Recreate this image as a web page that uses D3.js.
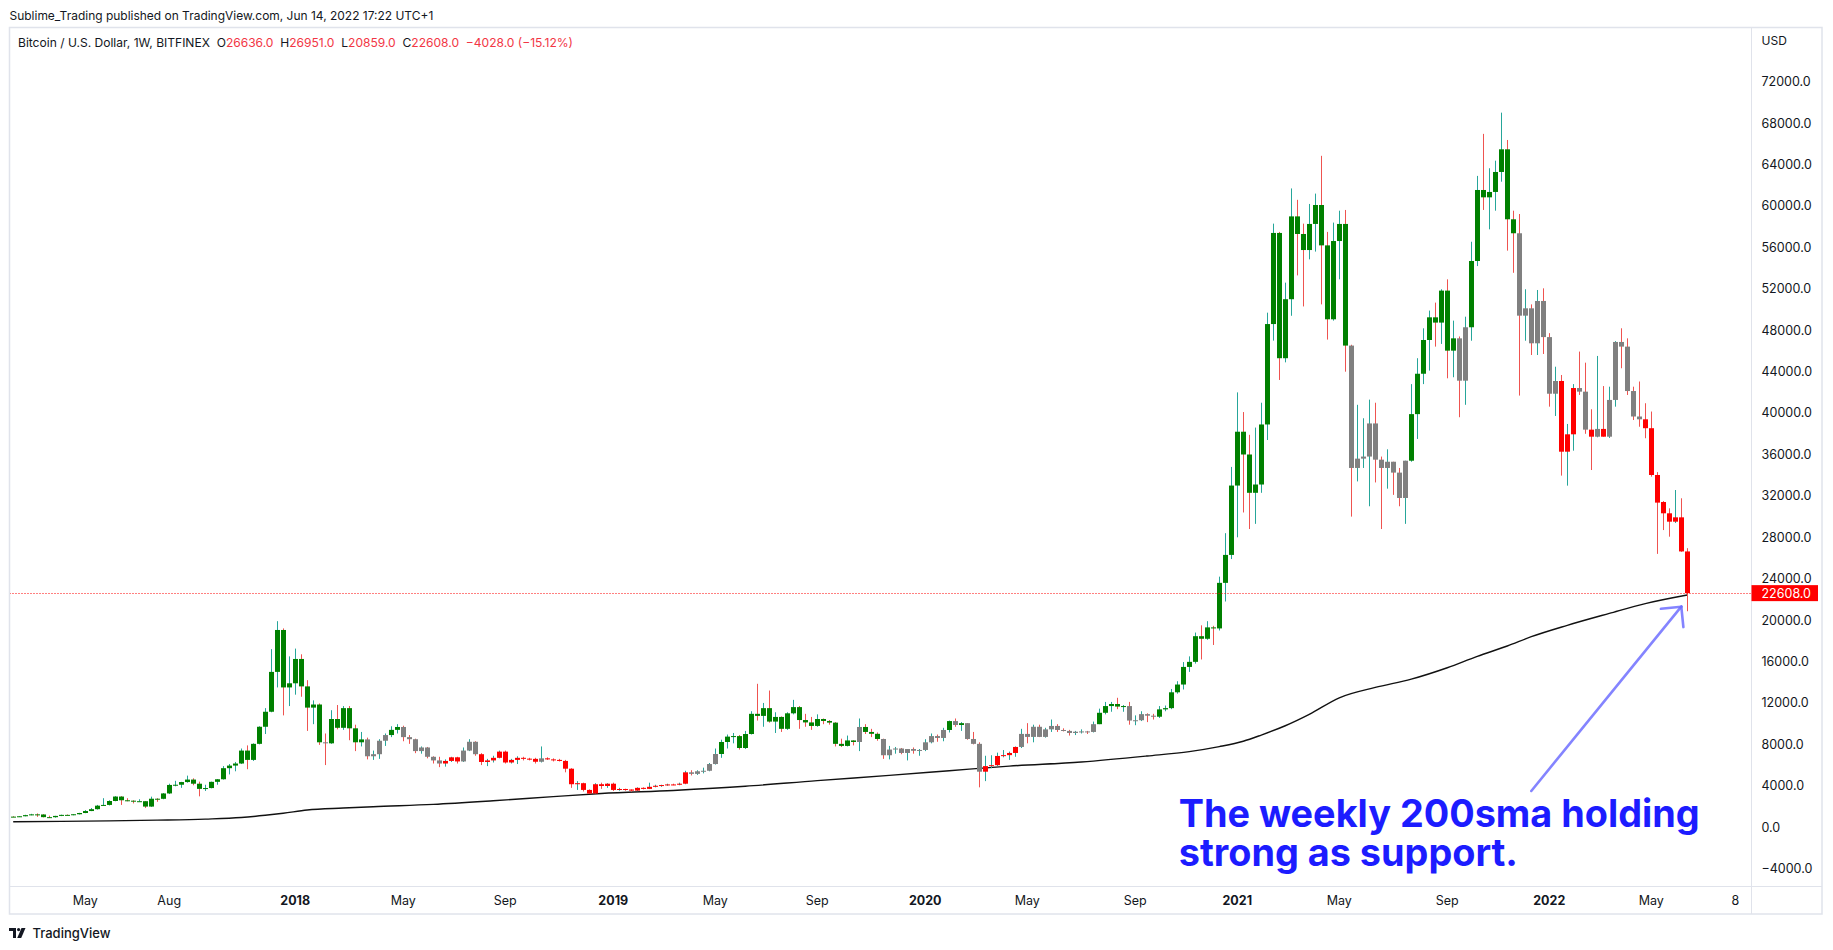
<!DOCTYPE html>
<html><head><meta charset="utf-8">
<script src="https://cdn.jsdelivr.net/npm/d3@7"></script>
<style>
html,body{margin:0;padding:0;background:#fff;}
svg{display:block;font-family:Inter,"Noto Sans",sans-serif;}
</style></head>
<body><svg id="chart" width="1833" height="950"></svg>
<script>
// ---------------- DATA (weekly bars, BITFINEX BTC/USD, first bar week of 2017-02-06) ----------------
const firstWeek = "2017-02-06";
const openPrices = [
 1020,1005,1055,1165,1240,1230,970,965,1090,1190,            // 0
 1175,1250,1370,1560,1740,2080,2150,2530,2960,2600,          // 10
 2560,2500,2510,1990,2750,2740,3260,4080,4100,4360,          // 20
 4600,4200,3700,3780,4380,4630,5700,5950,6150,7400,          // 30
 6500,8050,9700,11150,15000,19050,13500,13900,16250,13600,   // 40
 11550,11850,8200,8100,10450,9600,11500,9550,8200,8480,      // 50
 6850,7050,8350,8900,9400,9680,8700,8500,7350,7700,          // 60
 6800,6450,6150,6400,6750,6350,7400,8250,7050,6300,          // 70
 6450,6700,7300,6250,6500,6700,6620,6600,6320,6650,          // 80
 6550,6500,6400,5650,4150,4250,3600,3250,4150,3980,          // 90
 4200,3600,3690,3640,3530,3800,3700,3900,4000,4070,          // 100
 4130,4100,4200,5300,5150,5400,5450,6100,7070,8230,          // 110
 8720,8800,7650,9000,10950,10750,11500,10200,10650,9500,     // 120
 11000,11600,10350,10120,9780,10450,10260,10100,8050,7850,   // 130
 8380,8230,9680,9200,9020,8520,6950,7500,7600,7170,          // 140
 7550,7380,7460,8200,8800,8620,9390,10250,9870,10050,        // 150
 8520,8050,5360,5900,5990,6880,6960,7170,7750,9010,          // 160
 8720,9700,8720,9450,9780,9390,9300,9100,9220,9250,          // 170
 9200,9950,11050,11700,11900,11650,11700,10300,10330,10920,  // 180
 10770,10670,11380,11500,13030,13780,15480,15970,18450,18200,// 190
 19300,19200,23600,26300,33000,38200,36000,32300,33100,38900,// 200
 48600,57400,45300,51000,59000,57300,55750,58270,60100,56200,// 210
 49060,56620,58270,46520,34700,35600,35800,39000,35500,34700,// 220
 35300,34250,31800,35400,39900,43800,47060,49250,48740,51830,// 230
 46030,47220,43130,48290,54690,61550,60840,61360,63290,65480,// 240
 58720,57370,49410,50120,46740,50830,47340,41870,43100,36270,// 250
 37950,42420,42070,38400,37720,38470,37720,41270,46870,46420,// 260
 42130,39670,39400,38540,34020,31410,30320,29510,29930,26636 // 270
];
const highPrices = [
 1060,1065,1200,1290,1330,1260,1110,1100,1210,1230,
 1260,1390,1650,1850,2150,2800,2600,3000,3000,2800,
 2600,2700,2530,2950,2800,3300,4200,4480,4380,4980,
 4720,4400,4100,4400,4650,5900,6100,6300,7600,7900,
 8100,9750,11500,17200,19900,19200,16500,17250,16700,14200,
 12250,11950,9050,11300,11800,11700,11700,9900,9200,8650,
 7400,8500,9050,9750,9950,9800,8900,8550,7800,7750,
 6850,6800,6550,6800,6800,7700,8500,8300,7150,6600,
 6900,7400,7400,6600,6850,6800,6700,6700,7800,6750,
 6650,6600,6500,5700,4450,4300,3650,4250,4300,4250,
 4300,3800,3720,3650,3850,3850,4300,4100,4100,4200,
 4200,4300,5450,5500,5500,5750,6200,7600,8450,8950,
 9100,8900,9300,11200,13850,12000,13200,11100,10700,11100,
 12300,11700,10950,10650,10900,10500,10350,10150,8550,8850,
 8400,10500,9950,9500,9150,8550,7850,7750,7650,7550,
 7700,7550,8500,9050,8950,9600,10300,10500,10150,10050,
 9200,8200,6900,6950,7200,7450,7300,7800,9500,10050,
 9900,9900,9600,10400,9950,9550,9400,9300,9450,9300,
 10200,11450,12100,12100,12500,11800,12100,10800,11200,11000,
 10950,11700,11750,13350,14100,15950,16500,18800,19500,19900,
 19450,24200,28400,34800,42000,40100,37900,38600,41000,49700,
 58300,57500,52600,61700,60600,58300,60200,61200,64850,57500,
 58400,59550,59620,46600,40800,39500,41300,41000,35800,36500,
 35300,34700,35400,42800,45300,48190,49900,50670,51960,52920,
 48930,47400,49310,56550,62910,66970,63650,64380,69020,66380,
 59550,59230,51960,50500,51890,52050,47720,44480,43680,38950,
 42800,45940,44870,40370,45520,42610,42550,46950,48190,47220,
 42550,43050,40950,40150,34300,31500,30800,32570,31770,26951
];
const lowPrices = [
 970,990,1050,1150,1000,945,890,920,1070,1150,
 1150,1230,1350,1550,1700,2050,2100,2500,2150,2500,
 2300,2480,1850,1960,2450,2700,3200,3950,3800,4300,
 4050,2980,3500,3750,4100,4600,5100,5400,6100,5600,
 6400,8000,9000,11100,13500,10800,11700,12800,12600,9300,
 9950,7950,6000,8050,9450,9400,8400,7350,7800,6550,
 6500,6600,7850,8700,9050,8300,8050,7150,7100,6650,
 6150,5800,5850,6300,6150,6300,7350,6900,6000,5900,
 6250,6650,6150,6150,6100,6450,6450,6150,6250,6500,
 6350,6350,5300,3800,3600,3450,3200,3250,3700,3800,
 3500,3520,3520,3420,3480,3650,3680,3850,3900,4000,
 4050,4050,4150,5000,5050,5200,5400,6050,6700,7600,
 8100,7500,7550,8950,10300,9700,10100,9100,9200,9400,
 10900,9500,9700,9400,9700,9950,9900,7800,7750,7800,
 7900,7350,9000,8700,8350,6600,6550,7100,7050,6450,
 7100,6900,7350,8100,8250,8300,9150,9700,9300,8450,
 8000,3850,4450,5700,5900,6750,6500,6800,7650,8100,
 8200,8700,8650,9200,9200,9250,8850,8900,9050,9000,
 9150,9950,10900,11150,11400,11150,9900,9850,10250,10150,
 10400,10550,11200,11400,12900,13300,15000,15800,16200,18100,
 17600,19000,21800,25900,28000,30400,28800,29300,32300,37400,
 47000,43200,44900,49400,53300,50300,54850,55600,50500,47100,
 48930,52920,44000,30000,33400,34700,31000,33300,28800,32700,
 32100,31000,29300,35300,37500,42800,44100,46420,46680,43360,
 43460,39600,40800,46990,54200,59620,57750,59550,62350,55690,
 53550,41690,46990,45610,45610,45710,40620,39720,33960,32990,
 36370,41750,38000,34500,37660,37720,37600,40620,44330,41750,
 39330,38680,37570,33860,26400,28700,28060,29380,26600,20859
];
const closePrices = [
 1005,1055,1165,1240,1230,970,965,1090,1190,1175,
 1250,1370,1560,1740,2080,2150,2530,2960,2600,2560,
 2500,2510,1990,2750,2740,3260,4080,4100,4360,4600,
 4200,3700,3780,4380,4630,5700,5950,6150,7400,6500,
 8050,9700,11150,15000,19050,13500,13900,16250,13600,11550,
 11850,8200,8100,10450,9600,11500,9550,8200,8480,6850,
 7050,8350,8900,9400,9680,8700,8500,7350,7700,6800,
 6450,6150,6400,6750,6350,7400,8250,7050,6300,6450,
 6700,7300,6250,6500,6700,6620,6600,6320,6650,6550,
 6500,6400,5650,4150,4250,3600,3250,4150,3980,4200,
 3600,3690,3640,3530,3800,3700,3900,4000,4070,4130,
 4100,4200,5300,5150,5400,5450,6100,7070,8230,8750,
 8800,7650,9000,10950,10750,11500,10200,10650,9500,11000,
 11600,10350,10120,9780,10450,10260,10100,8050,7850,8380,
 8230,9680,9200,9020,8520,6950,7500,7600,7170,7550,
 7380,7460,8200,8800,8620,9390,10250,9870,10050,8520,
 8050,5360,5900,5990,6880,6960,7170,7750,9010,8720,
 9700,8720,9450,9780,9390,9300,9100,9220,9250,9200,
 9950,11050,11700,11900,11650,11700,10300,10330,10920,10770,
 10670,11380,11500,13030,13780,15480,15970,18450,18200,19300,
 19200,23600,26300,33000,38200,36000,32300,33100,38900,48600,
 57400,45300,51000,59000,57300,55750,58270,60100,56200,49060,
 56620,58270,46520,34700,35600,35800,39000,35500,34700,35300,
 34250,31800,35400,39900,43800,47060,49250,48740,51830,46030,
 47220,43130,48290,54690,61550,60840,61360,63290,65480,58720,
 57370,49410,50120,46740,50830,47340,41870,43100,36270,37950,
 42420,42070,38400,37720,38470,37720,41270,46870,46420,42130,
 39670,39400,38540,34020,31350,30320,29510,29930,26636,22608
];
// body colour class per bar (20 bars per string): g = green, n = grey, r = red
const bodyClasses = [
 "gggggggggggggggggggg", "gggggggggggggggggggg", "ggggggggggggnggggggn",
 "nnnggnnnnnnnrrrnnnrr", "rrrrrrrrnrrrrrrrrrrr", "rrrrrrrrrrrrrnnnnngg",
 "gggggggggggggggggggg", "gngggnnnnnnnnnnngngn", "nnrrrrrrnnnnnnnnnnnn",
 "ngggggnnnnnggggggggg", "gggggggggggggggggggg", "gggnnnnnnnnnnggggggg",
 "gnnggggggggnnnnnnnrr", "rnnrnrnnnnnnrrrrrrrr"
].join("");
// 200-week SMA (bar index -> value)
const smaBars   = [0, 8, 16, 24, 32, 38, 42, 45, 49, 55, 60, 70, 80, 90, 98, 110, 122, 134, 146, 156, 166, 178, 189, 196, 201, 205, 208, 212, 216, 221, 227, 233, 239, 244, 249, 253, 259, 266, 272, 279];
const smaValues = [530, 560, 610, 680, 780, 930, 1150, 1350, 1660, 1850, 1980, 2200, 2550, 2950, 3250, 3550, 3950, 4500, 5000, 5450, 5900, 6300, 6880, 7300, 7780, 8300, 8900, 9800, 10900, 12500, 13500, 14300, 15400, 16500, 17500, 18400, 19500, 20650, 21600, 22430];
// axes
const priceTicks = [-4000,0,4000,8000,12000,16000,20000,24000,28000,32000,36000,40000,44000,48000,52000,56000,60000,64000,68000,72000];
const timeTickDates  = ["2017-05-01","2017-08-07","2018-01-01","2018-05-07","2018-09-03","2019-01-07","2019-05-06","2019-09-02","2020-01-06","2020-05-04","2020-09-07","2021-01-04","2021-05-03","2021-09-06","2022-01-03","2022-05-02","2022-08-08"];
const timeTickLabels = ["May","Aug","2018","May","Sep","2019","May","Sep","2020","May","Sep","2021","May","Sep","2022","May","8"];
const timeTickBold   = [false,false,true,false,false,true,false,false,true,false,false,true,false,false,true,false,false];
const lastPrice = 22608;
const headerText = "Sublime_Trading published on TradingView.com, Jun 14, 2022 17:22 UTC+1";
const legendParts = [["Bitcoin / U.S. Dollar, 1W, BITFINEX  O","k"],["26636.0","r"],["  H","k"],["26951.0","r"],["  L","k"],["20859.0","r"],["  C","k"],["22608.0","r"],["  \u22124028.0 (\u221215.12%)","r"]];
const noteLines = ["The weekly 200sma holding","strong as support."];
const noteAnchor = {bar: 194.25, price: 50};
const arrowFrom = {bar: 253, price: 3500};
const arrowTo   = {bar: 278, price: 21300};

// ---------------- RENDER ----------------
const svg = d3.select("#chart");
const W = 1833, H = 950;
const pane = {l: 9.5, t: 27.5, r: 1822, b: 914};
const axisX = 1751.5, axisY = 886.5;
const DAY = 864e5;
const t0 = new Date(firstWeek + "T00:00:00Z").getTime();
const barDate = i => new Date(t0 + i * 7 * DAY);

const x = d3.scaleUtc().domain([barDate(-0.7), barDate(289.7)]).range([9, 1751.5]);
const y = d3.scaleLinear().domain([-4000, 72000]).range([868.6, 81.8]);

const txt = "#131722";
svg.append("rect").attr("width", W).attr("height", H).attr("fill", "#fff");

// header
const hdr = svg.append("text").attr("x", 9.5).attr("y", 19.5).attr("font-size", 12.5).attr("fill", txt).text(headerText);

// pane frame
svg.append("rect").attr("x", pane.l).attr("y", pane.t).attr("width", pane.r - pane.l).attr("height", pane.b - pane.t)
  .attr("fill", "none").attr("stroke", "#e0e3eb").attr("stroke-width", 1.5);
svg.append("line").attr("x1", axisX).attr("x2", axisX).attr("y1", pane.t).attr("y2", pane.b).attr("stroke", "#e0e3eb");
svg.append("line").attr("x1", pane.l).attr("x2", pane.r).attr("y1", axisY).attr("y2", axisY).attr("stroke", "#e0e3eb");

svg.append("clipPath").attr("id", "plotclip").append("rect")
  .attr("x", pane.l + 0.5).attr("y", pane.t + 0.5).attr("width", axisX - pane.l - 1).attr("height", axisY - pane.t - 1);
const plot = svg.append("g").attr("clip-path", "url(#plotclip)");

// legend
const leg = svg.append("text").attr("x", 18).attr("y", 46.5).attr("font-size", 12.5).attr("xml:space", "preserve");
legendParts.forEach(p => leg.append("tspan").attr("fill", p[1] === "r" ? "#f23645" : txt).text(p[0]));

// SMA
const smaLine = d3.line().x(d => x(barDate(d[0]))).y(d => y(d[1])).curve(d3.curveMonotoneX);
plot.append("path").datum(smaBars.map((b, k) => [b, smaValues[k]]))
  .attr("d", smaLine).attr("fill", "none").attr("stroke", "#111").attr("stroke-width", 1.4);

// candles
const bodyFill = {g: "#008000", n: "#808080", r: "#ff0000"};
const bars = d3.range(openPrices.length).map(i => ({
  i, o: openPrices[i], h: highPrices[i], l: lowPrices[i], c: closePrices[i], cls: bodyClasses[i]
}));
const cg = plot.append("g");
bars.forEach(d => {
  const cx = Math.round(x(barDate(d.i)));
  const up = d.c >= d.o;
  cg.append("line").attr("x1", cx + 0.5).attr("x2", cx + 0.5)
    .attr("y1", y(d.h)).attr("y2", y(d.l))
    .attr("stroke", up ? "#26a69a" : "#ef5350").attr("stroke-width", 1);
  const top = y(Math.max(d.o, d.c)), bot = y(Math.min(d.o, d.c));
  cg.append("rect").attr("x", cx - 2).attr("width", 5)
    .attr("y", top).attr("height", Math.max(1, bot - top))
    .attr("fill", bodyFill[d.cls] || "#808080");
});

// last price line
plot.append("line").attr("x1", pane.l).attr("x2", axisX).attr("y1", Math.round(y(lastPrice)) + 0.5).attr("y2", Math.round(y(lastPrice)) + 0.5)
  .attr("stroke", "#ff0000").attr("stroke-width", 1).attr("stroke-dasharray", "1,2");

// price axis
const pa = svg.append("g");
priceTicks.forEach(v => {
  pa.append("text").attr("x", 1761.5).attr("y", y(v)).attr("dy", "0.35em").attr("font-size", 12.5).attr("fill", txt)
    .text((v < 0 ? "\u2212" : "") + Math.abs(v).toFixed(1));
});
pa.append("text").attr("x", 1761.5).attr("y", 40.7).attr("dy", "0.35em").attr("font-size", 12).attr("fill", txt).text("USD");
const ly = y(lastPrice);
pa.append("rect").attr("x", axisX).attr("y", ly - 8).attr("width", 66.5).attr("height", 16).attr("fill", "#ff0000");
pa.append("text").attr("x", 1761.5).attr("y", ly).attr("dy", "0.35em").attr("font-size", 12.5).attr("fill", "#fff").text(lastPrice.toFixed(1));

// time axis
const ta = svg.append("g");
timeTickDates.forEach((d, k) => {
  ta.append("text").attr("x", x(new Date(d + "T00:00:00Z"))).attr("y", 901).attr("dy", "0.35em")
    .attr("text-anchor", "middle").attr("font-size", 12.5).attr("fill", txt)
    .attr("font-weight", timeTickBold[k] ? 700 : 400).text(timeTickLabels[k]);
});

// annotation arrow
const ax1 = x(barDate(arrowFrom.bar)), ay1 = y(arrowFrom.price);
const ax2 = x(barDate(arrowTo.bar)), ay2 = y(arrowTo.price);
const ang = Math.atan2(ay1 - ay2, ax1 - ax2);
const hl = 20.5;
const arrowG = svg.append("g").attr("stroke", "#6f6fff").attr("stroke-opacity", 0.85).attr("stroke-width", 2.6).attr("stroke-linecap", "round").attr("fill", "none");
arrowG.append("line").attr("x1", ax1).attr("y1", ay1).attr("x2", ax2).attr("y2", ay2);
[Math.PI / 4, -Math.PI / 4].forEach(da => {
  arrowG.append("line").attr("x1", ax2).attr("y1", ay2)
    .attr("x2", ax2 + hl * Math.cos(ang + da)).attr("y2", ay2 + hl * Math.sin(ang + da));
});

// annotation text: one text element, one tspan per line
const nx = x(barDate(noteAnchor.bar)), ny = y(noteAnchor.price);
const note = svg.append("text").attr("fill", "#1c1cff").attr("font-weight", 700).attr("font-size", 38)
  .attr("x", nx).attr("y", ny);
const spans = noteLines.map((s, k) => note.append("tspan").attr("x", nx).attr("y", ny + k * 39.3).text(s));

// footer logo
const logo = svg.append("g").attr("transform", "translate(9,928)").attr("fill", txt);
logo.append("path").attr("d", "M0 0H7V10H4V3H0Z");
logo.append("circle").attr("cx", 9.6).attr("cy", 1.6).attr("r", 1.6);
logo.append("path").attr("d", "M12.5 0H16.5L12.2 10H8.2Z");
svg.append("text").attr("x", 32.5).attr("y", 937.5).attr("font-size", 13).attr("font-weight", 500).attr("fill", txt).text("TradingView");

// fit a few long texts to the widths measured on the picture
function fit(sel, target) {
  const n = sel.node(); const w = n.getComputedTextLength();
  const fs = parseFloat(sel.attr("font-size"));
  if (w > 0) sel.attr("font-size", (fs * target / w).toFixed(2));
}
fit(hdr, 424);
fit(leg, 555);
const w0 = spans[0].node().getComputedTextLength();
if (w0 > 0) note.attr("font-size", (38 * 521 / w0).toFixed(2));
</script>
</body></html>
